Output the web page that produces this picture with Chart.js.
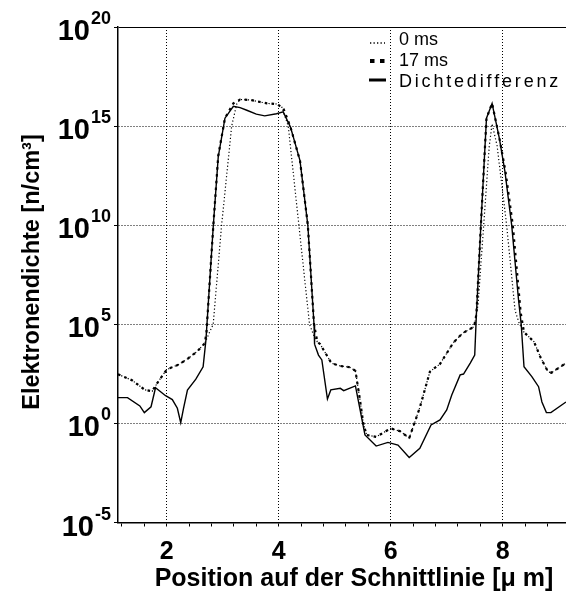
<!DOCTYPE html>
<html>
<head>
<meta charset="utf-8">
<title>Elektronendichte entlang der Schnittlinie</title>
<script src="https://cdn.jsdelivr.net/npm/chart.js@4/dist/chart.umd.min.js"></script>
<style>
  html, body { margin: 0; padding: 0; background: #fff; }
  canvas { display: block; }
</style>
</head>
<body>
<canvas id="c" width="566" height="597"></canvas>
<script>
// Positions along the cut line [µm] and electron densities [n/cm³]

// 0 ms
const pos0 = [1.13, 1.38, 1.61, 1.74, 1.85, 2.00, 2.21, 2.36, 2.54, 2.68, 2.75, 2.83, 2.98, 3.16, 3.25, 3.31, 3.49, 3.79, 3.96, 4.05, 4.17, 4.36, 4.55, 4.63, 4.69, 4.74, 4.94, 5.10, 5.27, 5.37, 5.45, 5.51, 5.57, 5.74, 6.00, 6.17, 6.33, 6.52, 6.70, 6.88, 7.12, 7.28, 7.49, 7.56, 7.66, 7.76, 7.81, 7.90, 8.07, 8.22, 8.30, 8.38, 8.56, 8.68, 8.81, 8.87, 9.13];
const dens0 = [3.0e2, 1.5e2, 4.9e1, 4.2e1, 1.3e2, 5.2e2, 9.3e2, 1.7e3, 4.2e3, 1.1e4, 3.2e4, 1.0e5, 1.0e10, 1.0e15, 1.3e16, 2.2e16, 2.1e16, 1.4e16, 1.3e16, 1.0e16, 1.0e15, 1.0e10, 1.0e5, 2.5e4, 1.3e4, 1.0e4, 1.1e3, 7.9e2, 6.8e2, 4.5e2, 1.6e1, 1.0e0, 2.6e-1, 2.1e-1, 5.6e-1, 4.0e-1, 1.8e-1, 6.3e0, 4.1e2, 1.0e3, 1.2e4, 3.5e4, 7.6e4, 1.0e6, 1.0e10, 1.0e14, 1.3e15, 1.0e14, 1.0e10, 5.0e5, 1.0e5, 4.0e4, 1.3e4, 2.0e3, 4.0e2, 3.6e2, 1.1e3];

// 17 ms
const pos17 = [1.13, 1.38, 1.61, 1.74, 1.85, 2.00, 2.21, 2.36, 2.54, 2.68, 2.71, 2.83, 2.92, 3.04, 3.19, 3.31, 3.49, 3.79, 3.96, 4.08, 4.21, 4.38, 4.52, 4.63, 4.69, 4.74, 4.94, 5.10, 5.27, 5.37, 5.45, 5.51, 5.57, 5.74, 6.00, 6.17, 6.33, 6.52, 6.70, 6.88, 7.12, 7.28, 7.49, 7.53, 7.61, 7.71, 7.81, 7.94, 8.05, 8.18, 8.32, 8.38, 8.56, 8.68, 8.81, 8.87, 9.13];
const dens17 = [3.0e2, 1.5e2, 4.9e1, 4.2e1, 1.3e2, 5.2e2, 9.3e2, 1.7e3, 4.2e3, 1.1e4, 4.0e4, 7.9e9, 3.2e13, 2.5e15, 1.4e16, 2.2e16, 2.1e16, 1.4e16, 1.3e16, 8.3e15, 8.9e14, 1.8e13, 1.0e10, 1.0e5, 1.3e4, 1.0e4, 1.1e3, 7.9e2, 6.8e2, 4.5e2, 1.6e1, 1.0e0, 2.6e-1, 2.1e-1, 5.6e-1, 4.0e-1, 1.8e-1, 6.3e0, 4.1e2, 1.0e3, 1.2e4, 3.5e4, 7.6e4, 3.2e5, 1.0e10, 2.5e15, 1.4e16, 2.5e14, 5.0e12, 1.0e10, 4.0e5, 4.0e4, 1.3e4, 2.0e3, 4.0e2, 3.6e2, 1.1e3];

// Dichtedifferenz
const posDiff = [1.13, 1.30, 1.52, 1.60, 1.72, 1.80, 1.98, 2.10, 2.19, 2.25, 2.30, 2.37, 2.52, 2.65, 2.70, 2.83, 2.92, 3.04, 3.19, 3.31, 3.43, 3.60, 3.75, 3.96, 4.08, 4.21, 4.38, 4.52, 4.63, 4.64, 4.71, 4.77, 4.87, 4.93, 5.10, 5.16, 5.37, 5.54, 5.74, 5.95, 6.13, 6.33, 6.52, 6.72, 6.88, 7.00, 7.09, 7.24, 7.30, 7.42, 7.50, 7.53, 7.61, 7.71, 7.81, 7.94, 8.04, 8.16, 8.28, 8.33, 8.38, 8.52, 8.64, 8.70, 8.78, 8.86, 9.13];
const densDiff = [2.0e1, 2.0e1, 7.6e0, 3.5e0, 6.9e0, 6.3e1, 2.5e1, 1.6e1, 5.8e0, 1.1e0, 5.8e0, 4.8e1, 1.7e2, 7.1e2, 1.6e4, 7.9e9, 2.8e13, 2.5e15, 1.0e16, 8.5e15, 6.3e15, 4.0e15, 3.3e15, 4.2e15, 5.2e15, 8.9e14, 1.8e13, 1.0e10, 1.0e5, 1.0e4, 2.8e3, 1.6e3, 1.7e1, 4.9e1, 5.9e1, 4.5e1, 7.8e1, 2.6e-1, 7.2e-2, 1.1e-1, 8.1e-2, 1.9e-2, 5.5e-2, 8.3e-1, 1.5e0, 4.8e0, 2.7e1, 2.8e2, 3.1e2, 1.1e3, 2.8e3, 3.2e5, 1.0e10, 2.5e15, 1.4e16, 2.4e14, 5.0e12, 1.0e10, 2.0e6, 1.0e5, 7.2e2, 2.3e2, 7.1e1, 1.2e1, 3.5e0, 3.5e0, 1.2e1];

// Axis ticks and labels
const xTickValues = [1.2, 1.6, 2.0, 2.4, 2.8, 3.2, 3.6, 4.0, 4.4, 4.8, 5.2, 5.6, 6.0, 6.4, 6.8, 7.2, 7.6, 8.0, 8.4, 8.8];
const xLabelValues = [2, 4, 6, 8];
const yTickValues = [1e-5, 1e0, 1e5, 1e10, 1e15, 1e20];
const yTickExponents = ['-5', '0', '5', '10', '15', '20'];

const seriesNames = ['0 ms', '17 ms', 'Dichtedifferenz'];
const xTitle = 'Position auf der Schnittlinie [\u03BC m]';
const yTitle = 'Elektronendichte [n/cm\u00B3]';

const FONT = '"Liberation Sans", Arial, Helvetica, sans-serif';

const toPoints = (xs, ys) => xs.map((x, i) => ({ x: x, y: ys[i] }));

// Tick labels with superscript exponents, axis titles and the legend
const textPlugin = {
  id: 'textPlugin',
  afterDraw(chart) {
    const ctx = chart.ctx;
    const xs = chart.scales.x;
    const ys = chart.scales.y;
    ctx.save();
    ctx.fillStyle = '#000';
    ctx.textBaseline = 'alphabetic';

    // y tick labels: 10 with exponent
    yTickValues.forEach((v, i) => {
      const py = ys.getPixelForValue(v);
      ctx.font = 'bold 18px ' + FONT;
      ctx.textAlign = 'right';
      const ew = ctx.measureText(yTickExponents[i]).width;
      ctx.fillText(yTickExponents[i], 111, py - 3);
      ctx.font = 'bold 29px ' + FONT;
      ctx.fillText('10', 111 - ew - 1, py + 13);
    });

    // x tick labels
    ctx.font = 'bold 25px ' + FONT;
    ctx.textAlign = 'center';
    xLabelValues.forEach(v => {
      ctx.fillText(String(v), xs.getPixelForValue(v), 559);
    });

    // x axis title
    ctx.font = 'bold 25px ' + FONT;
    ctx.textAlign = 'center';
    ctx.fillText(xTitle, 354, 586);

    // y axis title
    ctx.save();
    ctx.translate(39, 272);
    ctx.rotate(-Math.PI / 2);
    ctx.font = 'bold 23.5px ' + FONT;
    ctx.textAlign = 'center';
    ctx.fillText(yTitle, 0, 0);
    ctx.restore();

    // legend
    ctx.strokeStyle = '#000';
    ctx.lineCap = 'butt';
    // 0 ms sample
    ctx.lineWidth = 1.3;
    ctx.setLineDash([1.3, 2.2]);
    ctx.beginPath(); ctx.moveTo(370, 43); ctx.lineTo(385, 43); ctx.stroke();
    // 17 ms sample
    ctx.lineWidth = 4;
    ctx.setLineDash([4.5, 5.5]);
    ctx.beginPath(); ctx.moveTo(370, 61); ctx.lineTo(386, 61); ctx.stroke();
    // difference sample
    ctx.lineWidth = 3;
    ctx.setLineDash([]);
    ctx.beginPath(); ctx.moveTo(369, 80); ctx.lineTo(386, 80); ctx.stroke();

    ctx.font = '18px ' + FONT;
    ctx.textAlign = 'left';
    ctx.fillText(seriesNames[0], 399, 45);
    ctx.fillText(seriesNames[1], 399, 66);
    let lx = 399;
    for (const ch of seriesNames[2]) {
      ctx.fillText(ch, lx, 86.5);
      lx += ctx.measureText(ch).width + 2.8;
    }
    ctx.restore();
  }
};

new Chart(document.getElementById('c').getContext('2d'), {
  type: 'line',
  data: {
    datasets: [
      {
        label: seriesNames[0],
        data: toPoints(pos0, dens0),
        borderColor: '#000',
        borderWidth: 1.2,
        borderDash: [1.2, 2.3]
      },
      {
        label: seriesNames[1],
        data: toPoints(pos17, dens17),
        borderColor: '#000',
        borderWidth: 2.2,
        borderDash: [2.6, 4.2]
      },
      {
        label: seriesNames[2],
        data: toPoints(posDiff, densDiff),
        borderColor: '#000',
        borderWidth: 1.4
      }
    ]
  },
  options: {
    responsive: false,
    animation: false,
    devicePixelRatio: 1,
    layout: { padding: { top: 27, right: 0, bottom: 0, left: 0 } },
    plugins: { legend: { display: false }, tooltip: { enabled: false } },
    elements: {
      point: { radius: 0 },
      line: { tension: 0, fill: false }
    },
    scales: {
      x: {
        type: 'linear',
        min: 1.13,
        max: 9.13,
        afterBuildTicks: s => { s.ticks = xTickValues.map(v => ({ value: v })); },
        afterFit: s => { s.height = 74.5; },
        ticks: { display: false },
        grid: {
          color: c => (c.tick && xLabelValues.includes(c.tick.value)) ? '#000' : 'rgba(0,0,0,0)',
          tickColor: '#000',
          tickLength: 4,
          lineWidth: 1
        },
        border: { display: true, color: '#000', width: 1.5, dash: [1, 2] }
      },
      y: {
        type: 'logarithmic',
        min: 1e-5,
        max: 1e20,
        afterBuildTicks: s => { s.ticks = yTickValues.map(v => ({ value: v })); },
        afterFit: s => { s.width = 118; },
        ticks: { display: false },
        grid: { color: '#000', tickColor: '#000', tickLength: 4, lineWidth: 1 },
        border: {
          display: true, color: '#000', width: 1.5,
          dash: c => (c.tick && c.tick.value === 1e20) ? [] : [1, 2]
        }
      }
    }
  },
  plugins: [textPlugin]
});
</script>
</body>
</html>
